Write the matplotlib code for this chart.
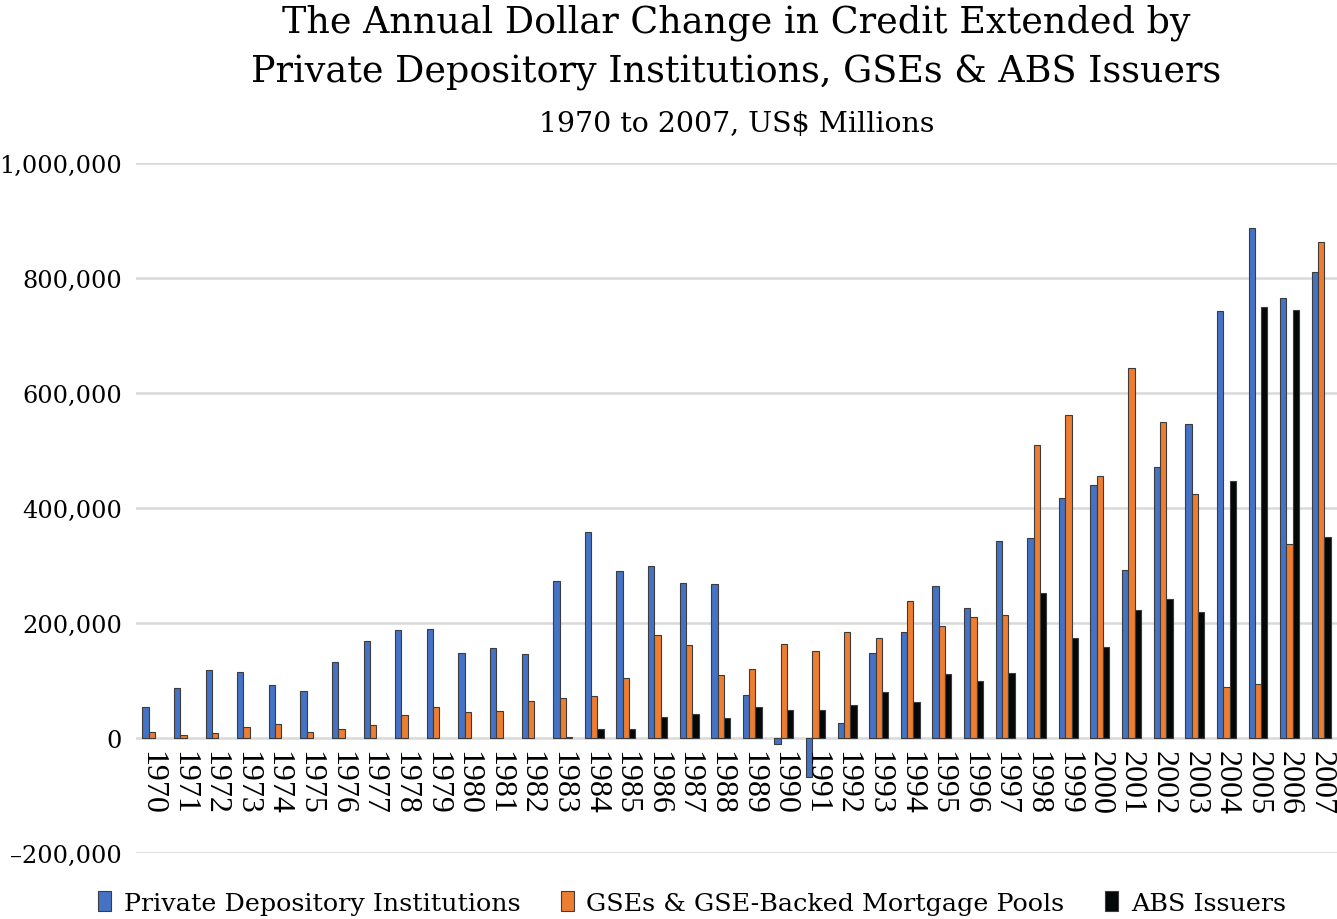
import matplotlib
matplotlib.use("Agg")
import matplotlib.pyplot as plt
import numpy as np
from matplotlib.patches import Patch

years = [str(y) for y in range(1970, 2008)]

private_depository = [
    54000, 87000, 119000, 115000, 93000, 82000, 133000, 168000, 188000, 190000,
    148000, 156000, 146000, 273000, 358000, 290000, 300000, 270000, 268000, 74000,
    -10000, -67000, 26000, 147000, 185000, 265000, 226000, 343000, 347000, 417000,
    440000, 292000, 472000, 546000, 742000, 887000, 765000, 810000]

gse_pools = [
    10000, 5000, 8000, 19000, 24000, 11000, 16000, 22000, 40000, 54000,
    45000, 47000, 65000, 69000, 73000, 104000, 180000, 161000, 109000, 120000,
    164000, 152000, 185000, 174000, 238000, 194000, 211000, 214000, 509000, 561000,
    455000, 643000, 550000, 424000, 88000, 94000, 338000, 863000]

abs_issuers = [
    0, 0, 0, 0, 0, 0, 0, 0, 0, 0,
    0, 0, 0, 2000, 16000, 15000, 37000, 42000, 34000, 54000,
    49000, 49000, 58000, 80000, 63000, 111000, 99000, 113000, 252000, 174000,
    159000, 222000, 242000, 220000, 447000, 750000, 745000, 350000]

series_names = ["Private Depository Institutions", "GSEs & GSE-Backed Mortgage Pools", "ABS Issuers"]
colors = ["#4472C4", "#ED7D31", "#050808"]
yticks = [-200000, 0, 200000, 400000, 600000, 800000, 1000000]

title1 = "The Annual Dollar Change in Credit Extended by"
title2 = "Private Depository Institutions, GSEs & ABS Issuers"
subtitle = "1970 to 2007, US$ Millions"

W, H = 1337, 920
fig = plt.figure(figsize=(W / 100, H / 100), dpi=100)
ax = fig.add_axes([136 / W, 1 - 854 / H, 1 - 136 / W, (854 - 164) / H])

x = np.arange(len(years))
bw = 0.2
for k, (vals, c, name) in enumerate(zip([private_depository, gse_pools, abs_issuers], colors, series_names)):
    v = np.array(vals, dtype=float)
    v[v == 0] = np.nan
    ax.bar(x + (k - 1) * bw, v, width=bw, color=c, edgecolor="#3c3c3c", linewidth=0.8,
           label=name, zorder=3)

ax.set_ylim(-200000, 1000000)
ax.set_xlim(-0.5, len(years) - 0.5)
ax.set_yticks(yticks)
ax.set_yticklabels([f"{v:,}".replace("-", "\u2013") for v in yticks],
                   fontfamily="DejaVu Serif", fontsize=17.3)
ax.tick_params(axis="y", length=0, pad=10)
ax.set_xticks([])
for s in ax.spines.values():
    s.set_visible(False)
ax.grid(axis="y", color="#d9d9d9", linewidth=1.8, zorder=0)
ax.set_axisbelow(True)

for i, lab in enumerate(years):
    ax.annotate(lab, xy=(i, 0), xytext=(0, -9), textcoords="offset points",
                rotation=270, ha="center", va="top", fontfamily="Liberation Serif",
                fontsize=23, color="black", annotation_clip=False)

cx = (136 + 1337) / 2 / W
fig.text(cx, 1 - 23 / H, title1, ha="center", va="center", fontfamily="DejaVu Serif", fontsize=26.3)
fig.text(cx, 1 - 73 / H, title2, ha="center", va="center", fontfamily="DejaVu Serif", fontsize=26.3)
fig.text(cx, 1 - 125 / H, subtitle, ha="center", va="center", fontfamily="DejaVu Serif", fontsize=20.5)

handles = [Patch(facecolor=c, edgecolor="#3c3c3c", linewidth=0.8) for c in colors]
fig.legend(handles, series_names, loc="center", bbox_to_anchor=(692 / W, 1 - 904 / H),
           ncol=3, frameon=False, prop={"family": "DejaVu Serif", "size": 18.3},
           handlelength=0.5, handleheight=0.85, handletextpad=0.5, columnspacing=1.6)

fig.savefig("out.png", dpi=100)
